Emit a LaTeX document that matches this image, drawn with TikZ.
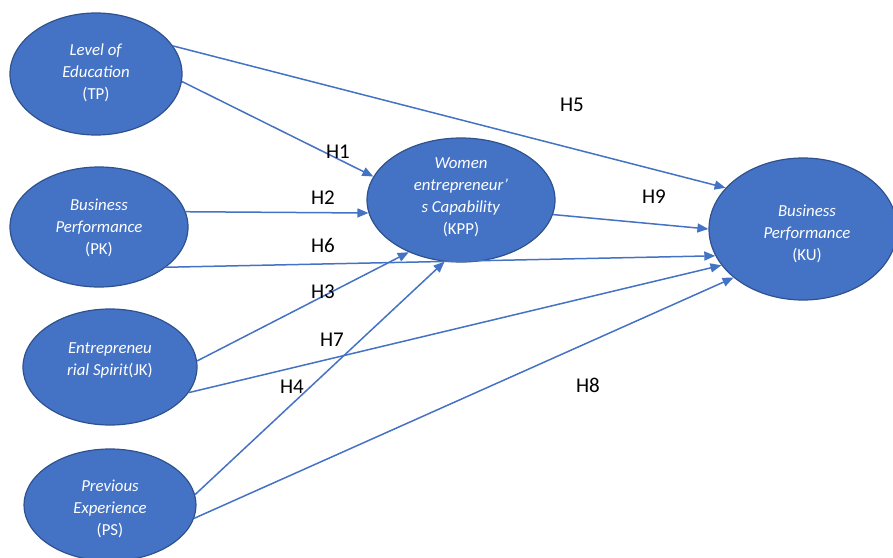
\documentclass[tikz,border=0pt]{standalone}
\usepackage{fontspec}
\setmainfont{Carlito}
\usetikzlibrary{shapes.geometric,arrows.meta}
\definecolor{ofill}{HTML}{4472C4}
\definecolor{oborder}{HTML}{2F528F}
\definecolor{oline}{HTML}{4472C4}
\tikzset{
  oval/.style={ellipse,draw=oborder,line width=1.2pt,fill=ofill,inner sep=0pt},
  ovaltext/.style={text=white,align=center,font=\fontsize{16.8}{22}\selectfont,inner sep=0pt},
  conn/.style={draw=oline,line width=1.5pt,-{Triangle[length=11pt,width=9pt]}},
  hyp/.style={font=\fontsize{21}{22}\selectfont,inner sep=0pt}
}
\begin{document}
\begin{tikzpicture}[x=1pt,y=-1pt]
\useasboundingbox (0,0) rectangle (893,557);
% ellipses
\node[oval,minimum width=172pt,minimum height=122pt] (tp) at (96,74) {};
\node[oval,minimum width=178pt,minimum height=120pt] (pk) at (99,227) {};
\node[oval,minimum width=174pt,minimum height=116pt] (jk) at (110,367) {};
\node[oval,minimum width=172pt,minimum height=112pt] (ps) at (110,505) {};
\node[oval,minimum width=188pt,minimum height=124pt] (kpp) at (461,200) {};
\node[oval,minimum width=188pt,minimum height=142pt] (ku) at (803,229) {};
% texts
\node[ovaltext] (tpt) at (96,73) {\textit{Level of}\\\textit{Education}\\(TP)};
\node[ovaltext] (pkt) at (99,228) {\textit{Business}\\\textit{Performance}\\(PK)};
\node[ovaltext] (jkt) at (110,360) {\textit{Entrepreneu}\\\textit{rial Spirit}(JK)};
\node[ovaltext] (pst) at (110,509) {\textit{Previous}\\\textit{Experience}\\(PS)};
\node[ovaltext] (kppt) at (461,197) {\textit{Women}\\\textit{entrepreneur’}\\\textit{s Capability}\\(KPP)};
\node[ovaltext] (kut) at (807,234) {\textit{Business}\\\textit{Performance}\\(KU)};
% connectors
\draw[conn] (tp.20.9) -- (ku.152);
\draw[conn] (tp.-5.9) -- (kpp.165.8);
\draw[conn] (pk.10.9) -- (kpp.188.9);
\draw[conn] (pk.-31.8) -- (ku.197.6);
\draw[conn] (kpp.-9.4) -- (ku.180.6);
\draw[conn] (jk.4.6) -- (kpp.225);
\draw[conn] (jk.-18.4) -- (ku.204.8);
\draw[conn] (ps.7.9) -- (kpp.255.2);
\draw[conn] (ps.-9.9) -- (ku.215.1);
% labels
\node[hyp] (h5) at (572,105) {H5};
\node[hyp] (h1) at (338,152) {H1};
\node[hyp] (h2) at (323,198) {H2};
\node[hyp] (h6) at (323,245) {H6};
\node[hyp] (h3) at (323,292) {H3};
\node[hyp] (h7) at (332,340) {H7};
\node[hyp] (h4) at (292,387) {H4};
\node[hyp] (h8) at (588,385) {H8};
\node[hyp] (h9) at (654,197) {H9};
\end{tikzpicture}
\end{document}
